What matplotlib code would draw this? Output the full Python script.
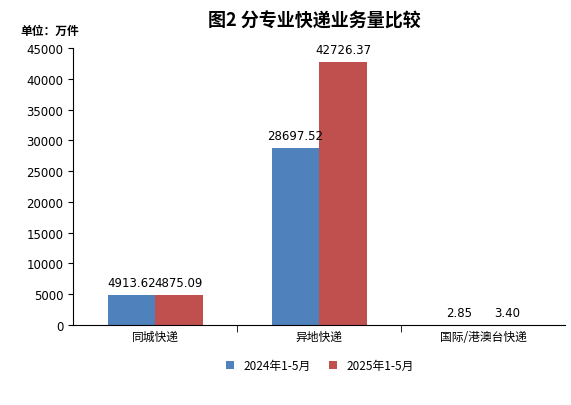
import matplotlib
matplotlib.use("Agg")
import matplotlib.pyplot as plt
import numpy as np

plt.rcParams['font.family'] = ['Noto Sans CJK SC', 'DejaVu Sans']

categories = ["同城快递", "异地快递", "国际/港澳台快递"]
v2024 = [4913.62, 28697.52, 2.85]
v2025 = [4875.09, 42726.37, 3.40]
series_names = ["2024年1-5月", "2025年1-5月"]

fig = plt.figure(figsize=(5.71, 4.06), dpi=100)
ax = fig.add_axes([0.128, 0.197, 0.862, 0.682])

x = np.arange(len(categories))
w = 0.29
b1 = ax.bar(x - w / 2, v2024, w, color="#4F81BD", label=series_names[0])
b2 = ax.bar(x + w / 2, v2025, w, color="#C0504D", label=series_names[1])
for bars, vals in ((b1, v2024), (b2, v2025)):
    for r, v in zip(bars, vals):
        ax.text(r.get_x() + r.get_width() / 2, r.get_height() + 1000, f"{v:.2f}",
                ha="center", va="bottom", fontsize=8.5, family="DejaVu Sans")

ax.set_xlim(-0.5, 2.5)
ax.set_ylim(0, 45000)
ax.set_yticks(range(0, 45001, 5000))
ax.set_xticks([0.5, 1.5], minor=True)
ax.set_xticks(x)
ax.set_xticklabels(categories, fontsize=8.5)
ax.tick_params(axis="x", which="major", length=0)
ax.tick_params(axis="x", which="minor", length=5)
ax.tick_params(axis="y", labelsize=8.5)
for t in ax.get_yticklabels():
    t.set_family("DejaVu Sans")
for s in ("top", "right"):
    ax.spines[s].set_visible(False)

fig.text(0.55, 0.935, "图2 分专业快递业务量比较", ha="center", fontsize=13, fontweight="bold")
fig.text(0.035, 0.915, "单位：万件", fontsize=8.5, fontweight="bold")
fig.legend(loc="lower center", bbox_to_anchor=(0.56, 0.055), ncol=2, frameon=False,
           fontsize=8.5, handlelength=0.7, handleheight=0.7, columnspacing=1.5)

fig.savefig("out.png", dpi=100)
